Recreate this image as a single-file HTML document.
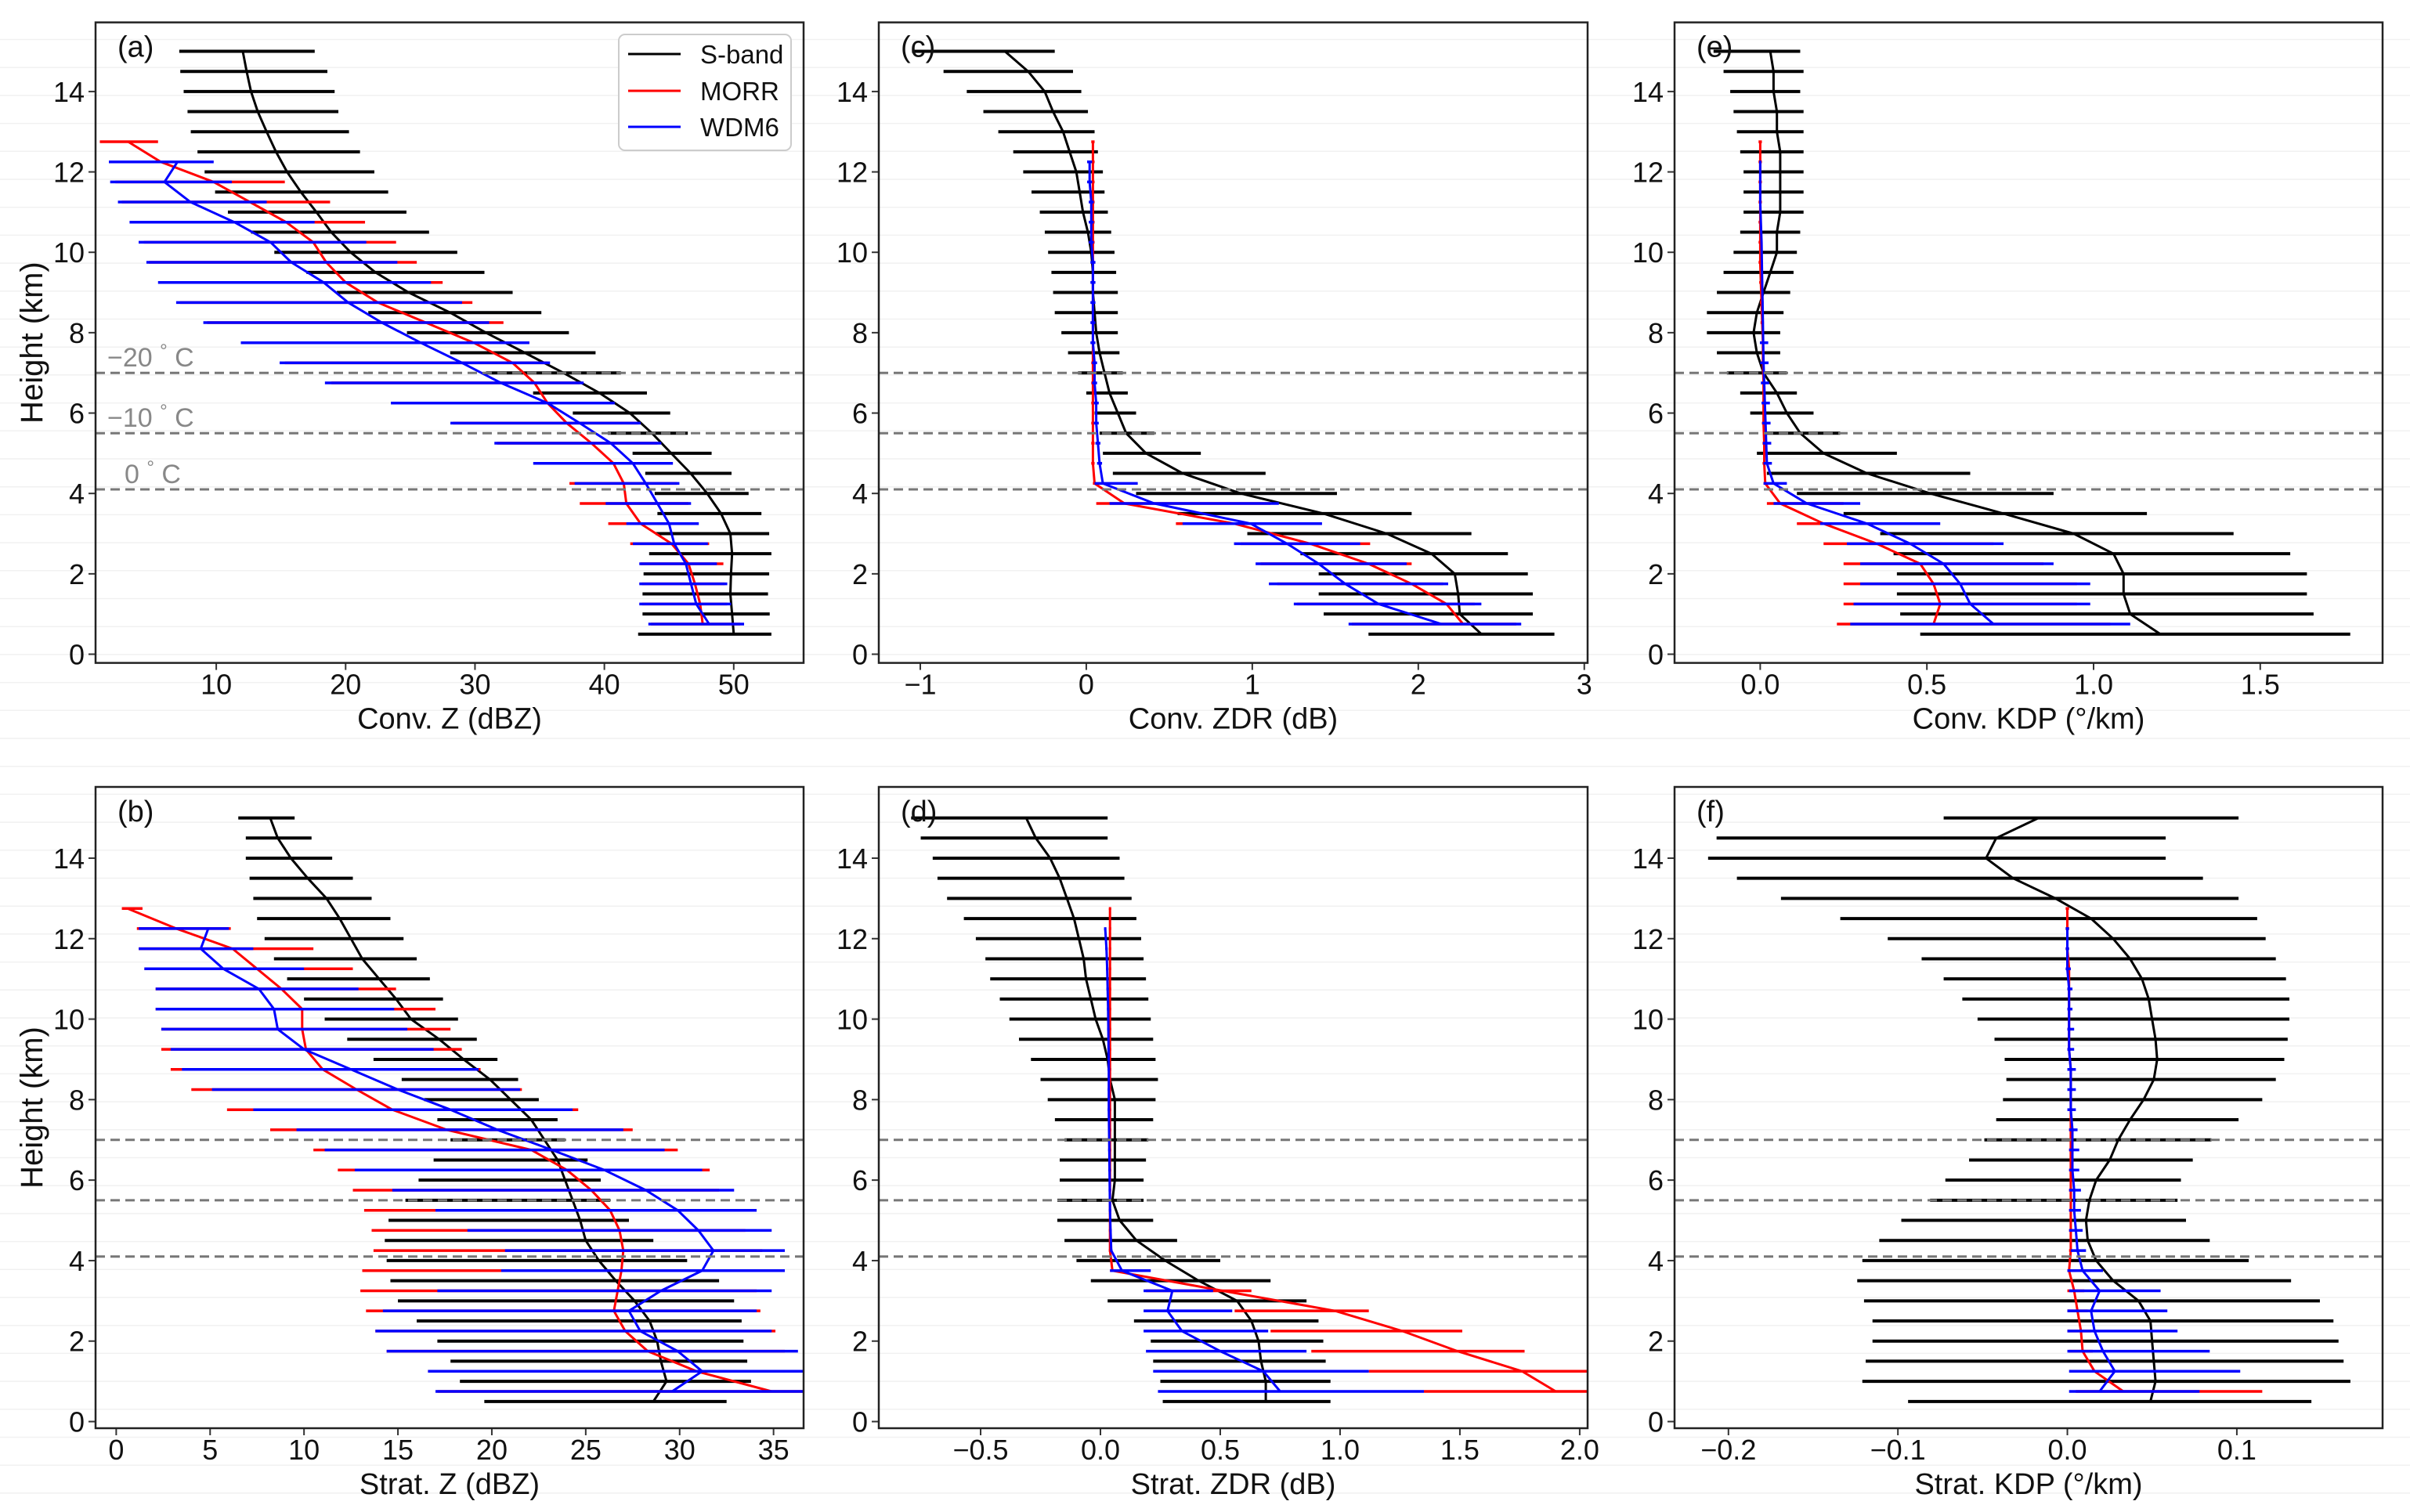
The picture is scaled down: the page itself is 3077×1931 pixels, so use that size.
<!DOCTYPE html>
<html><head><meta charset="utf-8"><style>
html,body{margin:0;padding:0;background:#fff;}
svg{display:block;font-family:"Liberation Sans",Arial,sans-serif;}
</style></head><body>
<svg id="fig" xmlns="http://www.w3.org/2000/svg" width="3077" height="1931" viewBox="0 0 3077 1931"></svg>
<script>
// ---------- DATA ----------
const sbandHeights = [15,14.5,14,13.5,13,12.5,12,11.5,11,10.5,10,9.5,9,8.5,8,7.5,7,6.5,6,5.5,5,4.5,4,3.5,3,2.5,2,1.5,1,0.5];
const morrHeights = [12.75,12.25,11.75,11.25,10.75,10.25,9.75,9.25,8.75,8.25,7.75,7.25,6.75,6.25,5.75,5.25,4.75,4.25,3.75,3.25,2.75,2.25,1.75,1.25,0.75];
const wdmHeights = [12.25,11.75,11.25,10.75,10.25,9.75,9.25,8.75,8.25,7.75,7.25,6.75,6.25,5.75,5.25,4.75,4.25,3.75,3.25,2.75,2.25,1.75,1.25,0.75];
const levelLines = [7.0,5.5,4.1];
const yTicks = [0,2,4,6,8,10,12,14];

// (a) Conv. Z
const aS_mean = [12.05,12.35,12.69,13.21,13.89,14.62,15.47,16.54,17.74,18.89,20.38,22.31,24.87,28.08,30.85,33.85,36.84,39.62,41.97,43.68,45.17,46.67,47.95,49.02,49.74,49.87,49.79,49.74,49.87,50.0];
const aS_lo = [7.14,7.22,7.48,7.78,8.03,8.55,9.10,9.91,10.90,12.69,14.49,16.97,19.32,21.75,24.74,28.08,30.85,34.49,37.56,40.26,42.18,43.16,43.89,44.10,43.97,43.46,43.03,42.95,42.95,42.61];
const aS_hi = [17.61,18.59,19.15,19.44,20.26,21.11,22.22,23.29,24.70,26.45,28.63,30.73,32.91,35.13,37.26,39.32,41.28,43.29,45.09,46.45,48.29,49.83,51.15,52.14,52.74,52.91,52.74,52.65,52.78,52.91];
const aM_mean = [3.2,5.7,9.8,12.6,15.4,17.5,18.5,20.0,22.5,26.2,29.9,32.9,34.6,35.6,37.1,39.0,40.7,41.5,41.7,42.8,45.2,46.5,47.0,47.4,47.6];
const aM_lo = [1.0,2.0,2.2,2.7,3.7,4.4,4.8,5.9,7.2,9.3,12.3,15.3,18.9,23.8,28.3,31.7,34.7,37.3,38.1,40.3,42.0,42.8,42.9,42.9,43.6];
const aM_hi = [5.5,9.5,15.3,18.8,21.5,23.9,25.5,27.5,29.8,32.2,34.2,35.6,38.1,40.5,42.6,44.1,45.0,45.6,46.5,47.0,48.1,49.2,49.3,49.5,50.5];
const aW_mean = [7.0,6.0,8.0,11.4,14.2,15.8,18.3,20.2,22.8,25.8,29.0,32.0,35.6,38.1,40.5,42.2,43.2,44.1,45.0,45.4,46.3,46.7,47.1,48.1];
const aW_lo = [1.7,1.8,2.4,3.3,4.0,4.6,5.5,6.9,9.0,11.9,14.9,18.4,23.5,28.1,31.5,34.5,37.7,40.1,41.7,42.2,42.7,42.7,42.7,43.4];
const aW_hi = [9.8,11.2,13.9,17.6,21.6,24.0,26.6,29.0,31.1,34.2,35.8,38.4,40.8,42.8,44.4,45.3,45.8,46.7,47.3,48.0,48.7,49.5,49.8,50.8];
const aTicks = [10,20,30,40,50];
const aTickLabels = ['10','20','30','40','50'];

// (b) Strat. Z
const bS_mean = [8.2,8.6,9.3,10.2,11.2,11.9,12.5,13.1,14.0,14.9,15.7,17.2,18.5,19.9,21.0,22.1,22.8,23.5,23.9,24.3,24.7,25.0,25.7,26.6,27.6,28.4,28.8,29.0,29.3,28.6];
const bS_lo = [6.5,6.9,6.9,7.1,7.3,7.5,7.9,8.4,9.1,10.0,11.1,12.3,13.7,15.2,16.4,17.1,17.8,16.9,16.1,15.4,14.5,14.3,14.4,14.6,15.0,16.0,17.1,17.8,18.3,19.6];
const bS_hi = [9.5,10.4,11.5,12.6,13.6,14.6,15.3,16.0,16.7,17.4,18.2,19.2,20.3,21.4,22.5,23.5,23.9,25.1,25.8,26.3,27.3,28.6,30.4,32.1,32.9,33.3,33.4,33.6,33.8,32.5];
const bM_mean = [0.6,3.2,6.2,7.5,8.8,9.9,9.9,10.1,11.0,12.8,14.7,17.6,22.1,24.0,25.3,26.3,26.8,27.0,26.9,26.7,26.5,27.1,28.3,30.9,34.9];
const bM_lo = [0.3,1.1,1.2,1.5,2.1,2.1,2.4,2.4,2.9,4.0,5.9,8.2,10.5,11.8,12.6,13.2,13.6,13.7,13.1,13.0,13.3,13.8,14.4,16.6,17.1];
const bM_hi = [1.4,6.1,10.5,12.6,14.9,17.0,17.8,18.4,19.4,21.6,24.6,27.5,29.9,31.6,32.1,32.6,33.5,34.4,34.4,34.1,34.3,35.1,35.6,37.1,37.1];
const bW_mean = [4.9,4.5,5.7,7.6,8.4,8.6,10.0,12.5,15.0,17.8,20.3,23.2,26.0,28.2,29.9,31.0,31.8,31.2,29.0,27.3,27.9,29.9,31.2,29.6];
const bW_lo = [1.2,1.2,1.5,2.1,2.1,2.4,2.9,3.5,5.1,7.3,9.6,11.1,12.7,14.7,17.0,18.7,20.7,20.5,17.1,14.2,13.8,14.4,16.6,17.0];
const bW_hi = [6.0,7.3,10.0,12.9,14.8,15.5,16.9,19.3,21.5,24.3,27.0,29.2,31.2,32.9,34.1,34.9,35.6,35.6,34.9,34.1,34.9,36.3,37.1,37.1];
const bTicks = [0,5,10,15,20,25,30,35];
const bTickLabels = ['0','5','10','15','20','25','30','35'];

// (c) Conv. ZDR
const cS_mean = [-0.49,-0.35,-0.25,-0.20,-0.14,-0.10,-0.06,-0.04,-0.02,0.01,0.03,0.04,0.04,0.05,0.06,0.08,0.11,0.14,0.19,0.24,0.36,0.58,0.93,1.43,1.81,2.08,2.22,2.24,2.25,2.38];
const cS_lo = [-1.05,-0.86,-0.72,-0.62,-0.53,-0.44,-0.38,-0.33,-0.28,-0.25,-0.23,-0.21,-0.20,-0.19,-0.15,-0.11,-0.05,0.0,0.05,0.08,0.10,0.16,0.30,0.55,0.97,1.29,1.40,1.40,1.43,1.70];
const cS_hi = [-0.19,-0.08,-0.03,0.01,0.05,0.07,0.10,0.11,0.13,0.15,0.17,0.18,0.19,0.19,0.19,0.20,0.22,0.25,0.30,0.41,0.69,1.08,1.51,1.96,2.32,2.54,2.66,2.69,2.69,2.82];
const cM_mean = [0.04,0.04,0.04,0.04,0.04,0.04,0.04,0.04,0.04,0.04,0.04,0.04,0.04,0.04,0.04,0.04,0.04,0.05,0.23,0.89,1.35,1.70,1.96,2.17,2.27];
const cM_lo = [0.03,0.03,0.03,0.03,0.03,0.03,0.03,0.03,0.03,0.03,0.03,0.03,0.03,0.03,0.03,0.03,0.03,0.04,0.06,0.54,0.93,1.05,1.15,1.27,1.60];
const cM_hi = [0.05,0.05,0.05,0.05,0.05,0.05,0.05,0.05,0.05,0.05,0.05,0.05,0.05,0.05,0.05,0.05,0.05,0.06,1.11,1.40,1.71,1.96,2.15,2.34,2.59];
const cW_mean = [0.02,0.02,0.03,0.03,0.03,0.04,0.04,0.04,0.04,0.04,0.05,0.05,0.06,0.06,0.07,0.08,0.10,0.41,0.99,1.21,1.40,1.56,1.76,2.14];
const cW_lo = [0.005,0.005,0.015,0.015,0.015,0.025,0.025,0.025,0.025,0.025,0.035,0.035,0.045,0.045,0.055,0.065,0.05,0.14,0.58,0.89,1.02,1.10,1.25,1.58];
const cW_hi = [0.035,0.035,0.045,0.045,0.045,0.055,0.055,0.055,0.055,0.055,0.065,0.065,0.075,0.075,0.085,0.095,0.31,1.16,1.42,1.65,1.93,2.18,2.38,2.62];
const cTicks = [-1,0,1,2,3];
const cTickLabels = ['\u22121','0','1','2','3'];

// (d) Strat. ZDR
const dS_mean = [-0.31,-0.27,-0.21,-0.17,-0.14,-0.11,-0.09,-0.07,-0.06,-0.04,-0.02,0.01,0.03,0.04,0.06,0.06,0.06,0.06,0.06,0.05,0.08,0.15,0.27,0.41,0.57,0.63,0.66,0.67,0.69,0.69];
const dS_lo = [-0.79,-0.75,-0.70,-0.68,-0.64,-0.57,-0.52,-0.48,-0.46,-0.42,-0.38,-0.34,-0.29,-0.25,-0.22,-0.19,-0.15,-0.17,-0.17,-0.18,-0.18,-0.15,-0.10,-0.04,0.03,0.14,0.21,0.22,0.25,0.26];
const dS_hi = [0.03,0.03,0.08,0.10,0.13,0.15,0.17,0.18,0.19,0.20,0.21,0.22,0.23,0.24,0.23,0.22,0.20,0.19,0.18,0.18,0.22,0.32,0.50,0.71,0.86,0.91,0.93,0.94,0.96,0.96];
const dM_mean = [0.04,0.04,0.04,0.04,0.04,0.04,0.04,0.04,0.04,0.04,0.04,0.04,0.04,0.04,0.04,0.04,0.04,0.04,0.05,0.51,0.98,1.26,1.49,1.76,1.90];
const dM_lo = [0.035,0.035,0.035,0.035,0.035,0.035,0.035,0.035,0.035,0.035,0.035,0.035,0.035,0.035,0.035,0.035,0.035,0.035,0.04,0.19,0.56,0.71,0.88,1.12,1.35];
const dM_hi = [0.045,0.045,0.045,0.045,0.045,0.045,0.045,0.045,0.045,0.045,0.045,0.045,0.045,0.045,0.045,0.045,0.045,0.045,0.19,0.63,1.12,1.51,1.77,2.15,2.15];
const dW_mean = [0.02,0.025,0.028,0.03,0.032,0.033,0.034,0.035,0.035,0.035,0.036,0.037,0.038,0.039,0.04,0.042,0.045,0.09,0.30,0.28,0.34,0.50,0.68,0.75];
const dW_lo = [0.015,0.02,0.023,0.025,0.027,0.028,0.029,0.03,0.03,0.03,0.031,0.032,0.033,0.034,0.035,0.037,0.04,0.04,0.18,0.18,0.18,0.19,0.22,0.24];
const dW_hi = [0.025,0.03,0.033,0.035,0.037,0.038,0.039,0.04,0.04,0.04,0.041,0.042,0.043,0.044,0.045,0.047,0.05,0.21,0.47,0.55,0.70,0.86,1.12,1.35];
const dTicks = [-0.5,0,0.5,1,1.5,2];
const dTickLabels = ['\u22120.5','0.0','0.5','1.0','1.5','2.0'];

// (e) Conv. KDP
const eS_mean = [0.03,0.04,0.04,0.05,0.05,0.06,0.06,0.06,0.06,0.05,0.05,0.03,0.01,-0.01,-0.02,-0.01,0.01,0.05,0.08,0.12,0.19,0.32,0.51,0.73,0.94,1.06,1.09,1.09,1.11,1.20];
const eS_lo = [-0.14,-0.11,-0.09,-0.08,-0.07,-0.06,-0.05,-0.05,-0.05,-0.06,-0.08,-0.11,-0.13,-0.16,-0.16,-0.13,-0.10,-0.06,-0.03,0.01,-0.01,0.02,0.11,0.25,0.36,0.40,0.41,0.41,0.42,0.48];
const eS_hi = [0.12,0.13,0.12,0.13,0.13,0.13,0.13,0.13,0.13,0.12,0.11,0.10,0.09,0.07,0.06,0.06,0.08,0.11,0.16,0.24,0.41,0.63,0.88,1.16,1.42,1.59,1.64,1.64,1.66,1.77];
const eM_mean = [0,0,0,0,0,0,0,0.002,0.004,0.006,0.008,0.008,0.01,0.01,0.01,0.012,0.012,0.015,0.06,0.19,0.35,0.48,0.52,0.54,0.52];
const eM_lo = [-0.005,-0.005,-0.005,-0.005,-0.005,-0.005,-0.005,-0.003,-0.001,0.001,0.003,0.003,0.005,0.005,0.005,0.007,0.007,0.01,0.02,0.11,0.19,0.25,0.25,0.25,0.23];
const eM_hi = [0.005,0.005,0.005,0.005,0.005,0.005,0.005,0.007,0.009,0.011,0.013,0.013,0.015,0.015,0.015,0.017,0.017,0.02,0.25,0.50,0.70,0.85,0.95,0.95,1.05];
const eW_mean = [0,0,0,0.002,0.004,0.005,0.006,0.007,0.008,0.009,0.01,0.012,0.014,0.016,0.018,0.02,0.04,0.14,0.32,0.45,0.55,0.60,0.63,0.70];
const eW_lo = [-0.003,-0.003,-0.003,-0.001,0.001,0.002,0.003,0.004,0.005,-0.001,0.0,0.002,0.004,0.006,0.008,0.01,0.01,0.04,0.18,0.26,0.30,0.30,0.28,0.27];
const eW_hi = [0.003,0.003,0.003,0.005,0.007,0.008,0.009,0.010,0.011,0.024,0.025,0.027,0.029,0.031,0.033,0.035,0.08,0.30,0.54,0.73,0.88,0.99,0.99,1.11];
const eTicks = [0,0.5,1,1.5];
const eTickLabels = ['0.0','0.5','1.0','1.5'];

// (f) Strat. KDP
const fS_mean = [-0.017,-0.042,-0.048,-0.032,-0.007,0.014,0.027,0.037,0.044,0.048,0.050,0.052,0.053,0.051,0.045,0.037,0.030,0.025,0.017,0.013,0.011,0.012,0.017,0.027,0.042,0.049,0.050,0.051,0.052,0.049];
const fS_lo = [-0.073,-0.207,-0.212,-0.195,-0.169,-0.134,-0.106,-0.086,-0.073,-0.062,-0.053,-0.043,-0.037,-0.036,-0.038,-0.042,-0.049,-0.058,-0.072,-0.081,-0.098,-0.111,-0.121,-0.124,-0.120,-0.115,-0.115,-0.119,-0.121,-0.094];
const fS_hi = [0.101,0.058,0.058,0.080,0.101,0.112,0.117,0.123,0.129,0.131,0.131,0.130,0.128,0.123,0.115,0.101,0.085,0.074,0.067,0.065,0.070,0.084,0.107,0.132,0.149,0.157,0.160,0.163,0.167,0.144];
const fM_mean = [0,0,0,0.001,0.001,0.001,0.001,0.001,0.002,0.002,0.002,0.002,0.002,0.002,0.002,0.002,0.002,0.002,0.001,0.004,0.006,0.008,0.009,0.016,0.033];
const fM_lo = [-0.001,-0.001,-0.001,0,0,0,0,0,0.001,0.001,0.001,0.001,0.001,0.001,0.001,0.001,0.001,0.001,0,0,0,0,0.001,0.002,0.005];
const fM_hi = [0.001,0.001,0.001,0.002,0.002,0.002,0.002,0.002,0.003,0.003,0.003,0.003,0.003,0.003,0.003,0.003,0.003,0.003,0.005,0.010,0.012,0.014,0.015,0.020,0.115];
const fW_mean = [0,0,0,0.001,0.001,0.001,0.001,0.002,0.002,0.002,0.003,0.003,0.003,0.004,0.004,0.005,0.006,0.009,0.019,0.014,0.016,0.021,0.028,0.019];
const fW_lo = [-0.001,-0.001,-0.001,0,0,0,0,0,0,0,0.001,0.001,0.001,0.001,0.001,0.001,0.002,0,0.001,0,0,0,0.001,0.001];
const fW_hi = [0.001,0.001,0.002,0.003,0.003,0.004,0.004,0.005,0.005,0.005,0.006,0.007,0.007,0.008,0.008,0.009,0.011,0.021,0.055,0.059,0.065,0.084,0.102,0.078];
const fTicks = [-0.2,-0.1,0,0.1];
const fTickLabels = ['\u22120.2','\u22120.1','0.0','0.1'];

// ---------- LAYOUT ----------
const NS = 'http://www.w3.org/2000/svg';
const svg = document.getElementById('fig');
const panels = [
  {id:'a', left:122, right:1026, top:28.6, bottom:846.6, xd:[0.67,55.4], yd:[-0.216,15.72], ticks:aTicks, labels:aTickLabels, title:'Conv. Z (dBZ)', S:[aS_mean,aS_lo,aS_hi], M:[aM_mean,aM_lo,aM_hi], W:[aW_mean,aW_lo,aW_hi]},
  {id:'b', left:122, right:1026, top:1005, bottom:1824, xd:[-1.1,36.6], yd:[-0.165,15.77], ticks:bTicks, labels:bTickLabels, title:'Strat. Z (dBZ)', S:[bS_mean,bS_lo,bS_hi], M:[bM_mean,bM_lo,bM_hi], W:[bW_mean,bW_lo,bW_hi]},
  {id:'c', left:1122, right:2027, top:28.6, bottom:846.6, xd:[-1.25,3.02], yd:[-0.216,15.72], ticks:cTicks, labels:cTickLabels, title:'Conv. ZDR (dB)', S:[cS_mean,cS_lo,cS_hi], M:[cM_mean,cM_lo,cM_hi], W:[cW_mean,cW_lo,cW_hi]},
  {id:'d', left:1122, right:2027, top:1005, bottom:1824, xd:[-0.925,2.033], yd:[-0.165,15.77], ticks:dTicks, labels:dTickLabels, title:'Strat. ZDR (dB)', S:[dS_mean,dS_lo,dS_hi], M:[dM_mean,dM_lo,dM_hi], W:[dW_mean,dW_lo,dW_hi]},
  {id:'e', left:2138, right:3042, top:28.6, bottom:846.6, xd:[-0.257,1.867], yd:[-0.216,15.72], ticks:eTicks, labels:eTickLabels, title:'Conv. KDP (\u00b0/km)', S:[eS_mean,eS_lo,eS_hi], M:[eM_mean,eM_lo,eM_hi], W:[eW_mean,eW_lo,eW_hi]},
  {id:'f', left:2138, right:3042, top:1005, bottom:1824, xd:[-0.2318,0.186], yd:[-0.165,15.77], ticks:fTicks, labels:fTickLabels, title:'Strat. KDP (\u00b0/km)', S:[fS_mean,fS_lo,fS_hi], M:[fM_mean,fM_lo,fM_hi], W:[fW_mean,fW_lo,fW_hi]}
];

function mk(tag, attrs, parent) {
  const e = document.createElementNS(NS, tag);
  for (const k in attrs) e.setAttribute(k, attrs[k]);
  (parent || svg).appendChild(e);
  return e;
}

// faint background streaks
const bgG = mk('g', {});


for (let y = 50.5; y < 1931; y += 35.7) {
  const l = mk('line', {x1:0, x2:3077, y1:y, y2:y, stroke:'#f1f1f1', 'stroke-width':1.5}, bgG);
  
  
}

const defs = mk('defs', {});

panels.forEach(p => {
  const sx = v => p.left + (v - p.xd[0]) / (p.xd[1] - p.xd[0]) * (p.right - p.left);
  const sy = h => p.bottom - (h - p.yd[0]) / (p.yd[1] - p.yd[0]) * (p.bottom - p.top);
  const g = mk('g', {});
  
  

  const cp = mk('clipPath', {id:'clip-' + p.id}, defs);
  mk('rect', {x:p.left, y:p.top, width:p.right - p.left, height:p.bottom - p.top}, cp);

  yTicks.forEach(t => {
    const y = sy(t);
    const tk = mk('line', {x1:p.left - 9, x2:p.left, y1:y, y2:y, stroke:'#333', 'stroke-width':2}, g);
    
    
    const tx = mk('text', {x:p.left - 14, y:y + 13, 'text-anchor':'end', 'font-size':36, fill:'#111'}, g);
    tx.textContent = String(t);
    
    
  });
  p.ticks.forEach((t, i) => {
    const x = sx(t);
    const tk = mk('line', {x1:x, x2:x, y1:p.bottom, y2:p.bottom + 9, stroke:'#333', 'stroke-width':2}, g);
    
    
    const tx = mk('text', {x:x, y:p.bottom + 40, 'text-anchor':'middle', 'font-size':36, fill:'#111'}, g);
    tx.textContent = p.labels[i];
    
    
  });
  const xt = mk('text', {x:(p.left + p.right) / 2, y:p.bottom + 84, 'text-anchor':'middle', 'font-size':38, fill:'#111'}, g);
  xt.textContent = p.title;
  
  

  const plot = mk('g', {'clip-path':'url(#clip-' + p.id + ')'}, g);
  
  

  function series(arrs, heights, color, barW, lineW, name) {
    const sg = mk('g', {}, plot);
    
    
    const [mean, lo, hi] = arrs;
    heights.forEach((h, i) => {
      const b = mk('line', {x1:sx(lo[i]), x2:sx(hi[i]), y1:sy(h), y2:sy(h), stroke:color, 'stroke-width':barW}, sg);
      
      
    });
    const pts = heights.map((h, i) => sx(mean[i]).toFixed(1) + ',' + sy(h).toFixed(1)).join(' ');
    const pl = mk('polyline', {points:pts, fill:'none', stroke:color, 'stroke-width':lineW, 'stroke-linejoin':'round'}, sg);
    
    
  }
  series(p.S, sbandHeights, '#000', 4, 3, 'sband');
  series(p.M, morrHeights, '#ff0000', 3.5, 3, 'morr');
  series(p.W, wdmHeights, '#0000ff', 3.5, 3, 'wdm6');

  levelLines.forEach(h => {
    const l = mk('line', {x1:p.left, x2:p.right, y1:sy(h), y2:sy(h), stroke:'#777', 'stroke-width':3, 'stroke-dasharray':'12 7'}, g);
    
    
  });

  const fr = mk('rect', {x:p.left, y:p.top, width:p.right - p.left, height:p.bottom - p.top, fill:'none', stroke:'#222', 'stroke-width':2.5}, g);
  
  

  const lb = mk('text', {x:p.left + 28, y:p.top + 44, 'font-size':38, fill:'#111'}, g);
  lb.textContent = '(' + p.id + ')';
  
  

  if (p.id === 'a') {
    const temps = [['\u221220', 137, 7.0], ['\u221210', 137, 5.5], ['0', 159, 4.1]];
    temps.forEach(t => {
      const tx = mk('text', {x:t[1], y:sy(t[2]) - 8, 'font-size':34, fill:'#888'}, g);
      
      
      const t1 = mk('tspan', {}, tx); t1.textContent = t[0] + ' ';
      const t2 = mk('tspan', {'font-size':24, dy:-12}, tx); t2.textContent = '\u00b0';
      const t3 = mk('tspan', {dy:12}, tx); t3.textContent = ' C';
    });
    const lg = mk('g', {}, g);
    
    
    const box = mk('rect', {x:790, y:44, width:220, height:148, rx:8, fill:'#fff', stroke:'#ccc', 'stroke-width':2}, lg);
    
    
    const entries = [['S-band', '#000', 69], ['MORR', '#ff0000', 116], ['WDM6', '#0000ff', 162]];
    entries.forEach(en => {
      const ln = mk('line', {x1:802, x2:869, y1:en[2], y2:en[2], stroke:en[1], 'stroke-width':3}, lg);
      
      
      const tx = mk('text', {x:894, y:en[2] + 12, 'font-size':33, fill:'#111'}, lg);
      tx.textContent = en[0];
      
      
    });
  }
});

[[437.6], [1414.5]].forEach(c => {
  const t = mk('text', {x:0, y:0, transform:'translate(54,' + c[0] + ') rotate(-90)', 'text-anchor':'middle', 'font-size':40, fill:'#111'});
  t.textContent = 'Height (km)';
  
  
});
</script>
</body></html>
